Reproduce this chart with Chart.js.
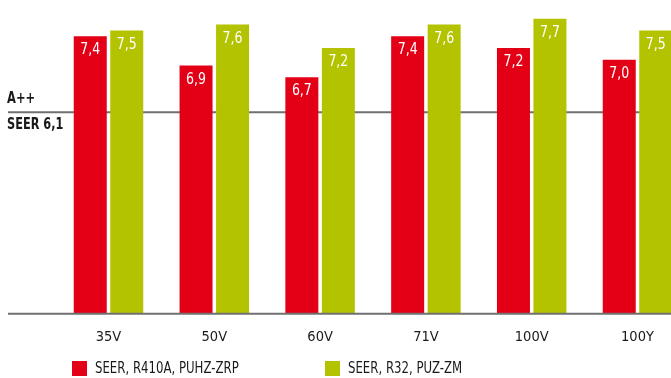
<!DOCTYPE html>
<html>
<head>
<meta charset="utf-8">
<script src="https://cdn.jsdelivr.net/npm/chart.js@4"></script>
<style>
  html, body { margin: 0; padding: 0; background: #fff; overflow: hidden; }
  .wrap { position: relative; width: 700px; height: 378px; }
  #legend { position: absolute; left: 0; top: 361px; width: 671px; height: 16px;
    font-family: 'Liberation Sans Narrow', 'DejaVu Sans Condensed', sans-serif; font-size: 15px; color: #1a1a1a; }
  .item { position: absolute; top: 0; white-space: nowrap; line-height: 15px; }
  .item span.box { display: inline-block; width: 15px; height: 15px; vertical-align: top; margin-right: 8px; }
  .item span.txt { display: inline-block; transform: scaleX(0.87); transform-origin: left center; }
</style>
</head>
<body>
<div class="wrap">
  <canvas id="bar" width="700" height="378"></canvas>
  <div id="legend"></div>
</div>
<script>
const FONT = "'Liberation Sans Narrow', 'DejaVu Sans Condensed', sans-serif";

const models = ['35V', '50V', '60V', '71V', '100V', '100Y'];
const seerR410A = [7.4, 6.9, 6.7, 7.4, 7.2, 7.0];
const seerR32 = [7.5, 7.6, 7.2, 7.6, 7.7, 7.5];
const seriesNames = ['SEER, R410A, PUHZ-ZRP', 'SEER, R32, PUZ-ZM'];
const seriesColors = ['#e30016', '#b3c300'];
const classLimit = 6.1;
const classLabels = ['A++', 'SEER 6,1'];

const fmt = v => v.toFixed(1).replace('.', ',');

// text squeezed horizontally, the font is wider than the condensed face
function narrowText(ctx, text, x, y, sx) {
  ctx.save();
  ctx.translate(x, y);
  ctx.scale(sx, 1);
  ctx.fillText(text, 0, 0);
  ctx.restore();
}

// A++ threshold line, axis baseline and the values inside the bars
const decorations = {
  id: 'decorations',
  beforeDatasetsDraw(chart) {
    const { ctx, scales } = chart;
    const y = scales.y.getPixelForValue(classLimit);
    ctx.save();
    ctx.strokeStyle = '#707070';
    ctx.lineWidth = 2;
    ctx.beginPath();
    ctx.moveTo(8, y);
    ctx.lineTo(chart.width, y);
    ctx.stroke();
    ctx.fillStyle = '#1a1a1a';
    ctx.font = 'bold 15px ' + FONT;
    ctx.textAlign = 'left';
    ctx.textBaseline = 'middle';
    narrowText(ctx, classLabels[0], 7, y - 13, 0.85);
    narrowText(ctx, classLabels[1], 7, y + 13, 0.84);
    ctx.restore();
  },
  afterDatasetsDraw(chart) {
    const { ctx, chartArea } = chart;
    ctx.save();
    ctx.strokeStyle = '#707070';
    ctx.lineWidth = 2;
    ctx.beginPath();
    ctx.moveTo(8, chartArea.bottom);
    ctx.lineTo(chart.width, chartArea.bottom);
    ctx.stroke();
    ctx.fillStyle = '#ffffff';
    ctx.font = '16px ' + FONT;
    ctx.textAlign = 'center';
    ctx.textBaseline = 'middle';
    chart.data.datasets.forEach((ds, i) => {
      chart.getDatasetMeta(i).data.forEach((bar, j) => {
        narrowText(ctx, fmt(ds.data[j]), bar.x, bar.y + 14, 0.87);
      });
    });
    ctx.restore();
  }
};

const ctx = document.getElementById('bar');
new Chart(ctx, {
  type: 'bar',
  data: {
    labels: models,
    datasets: [
      { label: seriesNames[0], data: seerR410A, backgroundColor: seriesColors[0] },
      { label: seriesNames[1], data: seerR32, backgroundColor: seriesColors[1] }
    ]
  },
  options: {
    responsive: false,
    animation: false,
    categoryPercentage: 0.69,
    barPercentage: 0.904,
    layout: { padding: { top: 10, left: 55.6, right: 9.6, bottom: 0 } },
    plugins: {
      legend: { display: false },
      tooltip: { enabled: false }
    },
    scales: {
      y: { display: false, min: 2.65, max: 7.85 },
      x: {
        grid: { display: false, drawTicks: false },
        border: { display: false },
        ticks: { color: '#1a1a1a', font: { family: FONT, size: 14.5 }, padding: 15 },
        afterFit(scale) { scale.height = 64.3; }
      }
    }
  },
  plugins: [decorations]
});

// legend under the chart
const legend = document.getElementById('legend');
const legendX = [72, 325];
seriesNames.forEach((name, i) => {
  const item = document.createElement('div');
  item.className = 'item';
  item.style.left = legendX[i] + 'px';
  item.innerHTML = '<span class="box" style="background:' + seriesColors[i] + '"></span><span class="txt">' + name + '</span>';
  legend.appendChild(item);
});
</script>
</body>
</html>
